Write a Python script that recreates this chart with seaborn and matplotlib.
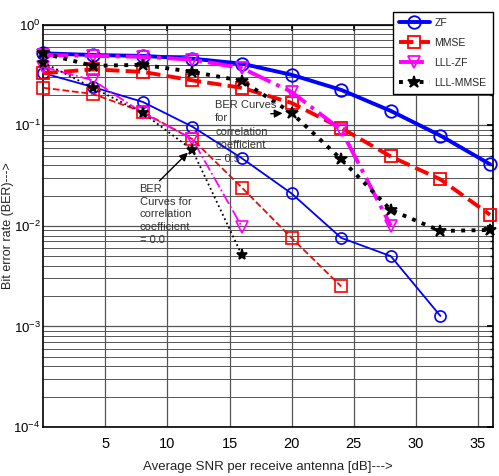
import numpy as np
import pandas as pd
import seaborn as sns
import matplotlib.pyplot as plt
from matplotlib.ticker import LogLocator, NullFormatter

# ---------------------------------------
# Data
# ---------------------------------------
snr = [0, 4, 8, 12, 16, 20, 24, 28, 32, 36]

# correlation coefficient = 0.5 (thick lines)
zf_05 = [0.52, 0.50, 0.49, 0.46, 0.41, 0.318, 0.225, 0.139, 0.079, 0.041]
mmse_05 = [0.33, 0.36, 0.34, 0.28, 0.236, 0.167, 0.094, 0.049, 0.029, 0.0129]
lllzf_05 = [0.50, 0.49, 0.48, 0.45, 0.37, 0.215, 0.090, 0.0100]
lllmmse_05 = [0.52, 0.39, 0.40, 0.34, 0.277, 0.133, 0.046, 0.0144, 0.0089, 0.0091]

# correlation coefficient = 0.0 (thin lines)
zf_00 = [0.33, 0.24, 0.171, 0.097, 0.047, 0.021, 0.0076, 0.0050, 0.00127]
mmse_00 = [0.236, 0.205, 0.136, 0.073, 0.024, 0.0076, 0.0025]
lllzf_00 = [0.38, 0.28, 0.133, 0.073, 0.0098]
lllmmse_00 = [0.42, 0.236, 0.133, 0.057, 0.0051]

# ---------------------------------------
# Theme
# ---------------------------------------
sns.set_theme(style="white")
plt.rcParams["font.family"] = ["Liberation Sans", "DejaVu Sans"]
plt.rcParams["mathtext.fontset"] = "custom"
plt.rcParams["mathtext.rm"] = "Liberation Sans"

fig = plt.figure(figsize=(4.99, 4.76), dpi=100)
ax = fig.add_axes([0.087, 0.103, 0.900, 0.845])

styles = [
    ("ZF", zf_05, zf_00, "#0000ff", "-", "o", "none"),
    ("MMSE", mmse_05, mmse_00, "#ff0000", "--", "s", "none"),
    ("LLL-ZF", lllzf_05, lllzf_00, "#ff00ff", "-.", "v", "none"),
    ("LLL-MMSE", lllmmse_05, lllmmse_00, "black", ":", "*", "black"),
]

for name, hi, lo, color, ls, mk, mfc in styles:
    sns.lineplot(x=snr[:len(hi)], y=hi, ax=ax, color=color, linestyle=ls,
                 linewidth=2.8, marker=mk, markersize=9, markerfacecolor=mfc,
                 markeredgecolor=color, markeredgewidth=1.3, label=name,
                 zorder=3, clip_on=False)
    sns.lineplot(x=snr[:len(lo)], y=lo, ax=ax, color=color, linestyle=ls,
                 linewidth=1.3, marker=mk, markersize=8, markerfacecolor=mfc,
                 markeredgecolor=color, markeredgewidth=1.2, zorder=3,
                 clip_on=False)

ax.set_yscale("log")
ax.set_xlim(0, 36.2)
ax.set_ylim(1e-4, 1)
ax.set_xticks([5, 10, 15, 20, 25, 30, 35])
ax.yaxis.set_major_locator(LogLocator(base=10, numticks=10))
ax.yaxis.set_minor_locator(LogLocator(base=10, subs=np.arange(2, 10), numticks=10))
ax.yaxis.set_minor_formatter(NullFormatter())

ax.grid(True, which="major", color="#555555", linewidth=0.9)
ax.grid(True, which="minor", axis="y", color="#555555", linewidth=0.7)
ax.tick_params(which="both", direction="in", top=True, right=True,
               labelsize=10.5, colors="black", length=4)
ax.tick_params(axis="x", pad=7)
ax.tick_params(axis="y", labelsize=9.5, pad=2)
ax.tick_params(which="minor", length=2)
for s in ax.spines.values():
    s.set_color("black")
    s.set_linewidth(1.2)

ax.set_xlabel("Average SNR per receive antenna [dB]--->", fontsize=9.5,
              color="#222222")
ax.xaxis.set_label_coords(0.5, -0.085)
ax.set_ylabel("Bit error rate (BER)--->", fontsize=9, color="#222222")
ax.yaxis.set_label_coords(-0.066, 0.5)

leg = ax.legend(loc="upper right", bbox_to_anchor=(1.0, 1.032), fontsize=7.5,
                frameon=True, fancybox=False, edgecolor="black",
                handlelength=3.0, handletextpad=0.4, borderpad=0.6,
                labelspacing=0.95, borderaxespad=0.0)
leg.get_frame().set_linewidth(1.0)
leg.get_frame().set_alpha(1)

ax.text(13.85, 0.18, "BER Curves\nfor\ncorrelation\ncoefficient\n= 0.5",
        fontsize=8, color="#333333", va="top", ha="left", linespacing=1.45)
ax.annotate("", xy=(19.5, 0.132), xytext=(18.1, 0.13),
            arrowprops=dict(arrowstyle="-|>", color="black", lw=1))
ax.text(7.75, 0.0262, "BER\nCurves for\ncorrelation\ncoefficient\n= 0.0",
        fontsize=8, color="#333333", va="top", ha="left", linespacing=1.35)
ax.annotate("", xy=(11.8, 0.056), xytext=(9.2, 0.0268),
            arrowprops=dict(arrowstyle="-|>", color="black", lw=1))

fig.savefig("out.png", dpi=100)
